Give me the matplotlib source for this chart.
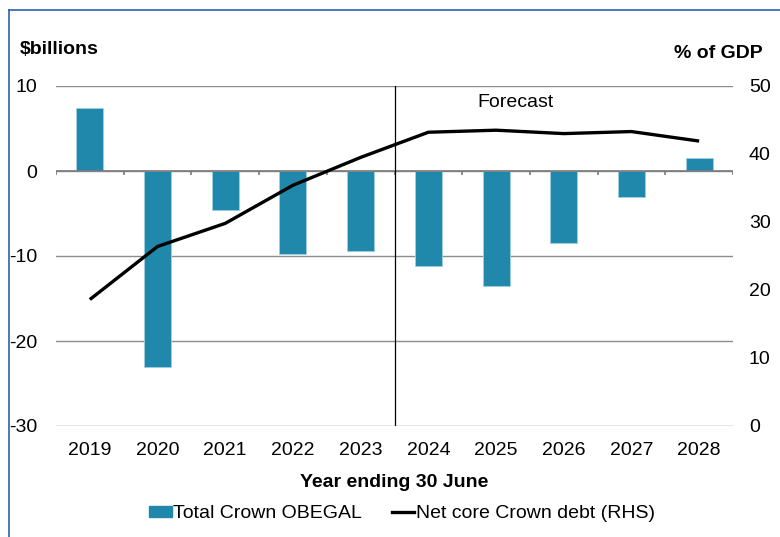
import matplotlib
matplotlib.use("Agg")
import matplotlib.pyplot as plt
import numpy as np
from matplotlib.lines import Line2D

plt.rcParams['font.family'] = ['Liberation Sans', 'DejaVu Sans']

years = ["2019", "2020", "2021", "2022", "2023", "2024", "2025", "2026", "2027", "2028"]
obegal = [7.4, -23.1, -4.6, -9.8, -9.4, -11.2, -13.5, -8.5, -3.1, 1.5]
net_debt = [18.6, 26.4, 29.8, 35.4, 39.5, 43.2, 43.5, 43.0, 43.3, 41.9]

bar_col = "#1f88ab"
grid_col = "#8c8c8c"
fs = 14

fig = plt.figure(figsize=(7.8, 5.37), dpi=100)
ax = fig.add_axes([56 / 780, 1 - 426 / 537, (733 - 56) / 780, (426 - 86) / 537])
x = np.arange(len(years))

ax.bar(x, obegal, width=0.4, color=bar_col, edgecolor="#9fd0e0", linewidth=0.6, zorder=2)
ax.set_ylim(-30, 10)
ax.set_xlim(-0.5, len(years) - 0.5)
ax.set_yticks([10, 0, -10, -20, -30])
ax.set_yticklabels(["10", "0", "-10", "-20", "-30"], fontsize=fs)
ax.yaxis.grid(True, color=grid_col, lw=1, zorder=0)
ax.tick_params(axis="y", length=0, pad=13.5)
ax.set_xticks(x)
ax.set_xticklabels(years, fontsize=fs)
ax.tick_params(axis="x", length=0, pad=11.5)
for s in ax.spines.values():
    s.set_visible(False)

# zero axis with tick marks between categories
ax.axhline(0, color="#7a7a7a", lw=1.2, zorder=3)
ax.vlines(np.arange(len(years) + 1) - 0.5, -0.5, 0, color="#7a7a7a", lw=1.2, zorder=3)

# forecast divider
ax.axvline(4.5, color="black", lw=0.9, zorder=3)
ax.text(6.28, 8.1, "Forecast", fontsize=fs, ha="center", va="center")

ax.set_xlabel("Year ending 30 June", fontsize=fs, fontweight="bold", labelpad=11)

ax2 = ax.twinx()
ax2.plot(x, net_debt, color="black", lw=2.4, solid_capstyle="butt", zorder=4)
ax2.set_ylim(0, 50)
ax2.set_yticks([0, 10, 20, 30, 40, 50])
ax2.set_yticklabels(["0", "10", "20", "30", "40", "50"], fontsize=fs)
ax2.tick_params(axis="y", length=0, pad=11.5)
for s in ax2.spines.values():
    s.set_visible(False)

fig.text(20 / 780, 1 - 49 / 537, "$billions", fontsize=fs, fontweight="bold", va="center", ha="left")
fig.text(763 / 780, 1 - 53 / 537, "% of GDP", fontsize=fs, fontweight="bold", va="center", ha="right")

handles = [plt.Rectangle((0, 0), 1, 1, color=bar_col),
           Line2D([0], [0], color="black", lw=2.4)]
fig.legend(handles, ["Total Crown OBEGAL", "Net core Crown debt (RHS)"],
           loc="center", bbox_to_anchor=(402 / 780, 1 - 514 / 537), ncol=2,
           frameon=False, fontsize=fs, handlelength=1.15, handleheight=0.55,
           handletextpad=0.1, columnspacing=1.5)

# frame border (top and left visible)
fig.add_artist(Line2D([9 / 780, 1.0], [1 - 10 / 537, 1 - 10 / 537], color="#2f5fb3", lw=1.2))
fig.add_artist(Line2D([9 / 780, 9 / 780], [0, 1 - 10 / 537], color="#2f5fb3", lw=1.2))

fig.savefig("out.png", dpi=100)
